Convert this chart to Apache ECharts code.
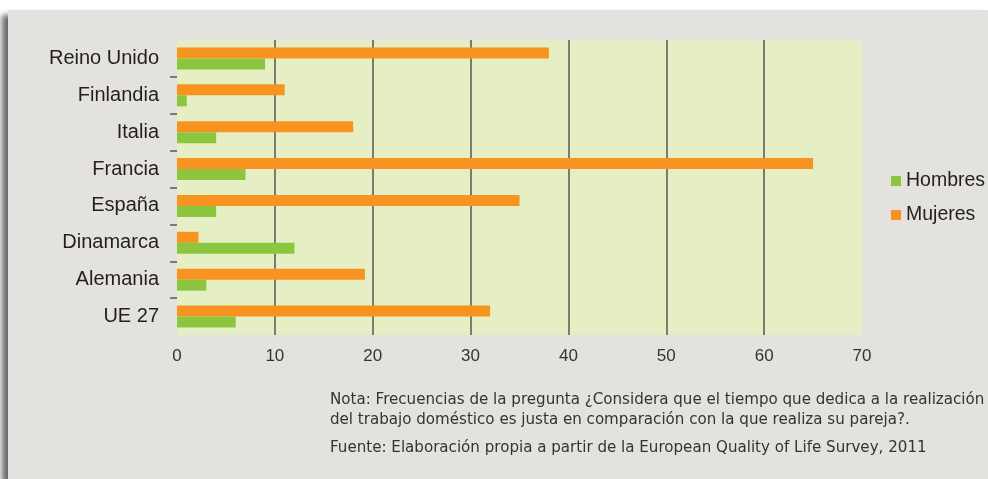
<!DOCTYPE html>
<html>
<head>
<meta charset="utf-8">
<script src="https://cdn.jsdelivr.net/npm/echarts@6/dist/echarts.min.js"></script>
<style>
  html, body { margin: 0; padding: 0; background: #ffffff; width: 988px; height: 479px; overflow: hidden; }
  #panel { position: absolute; left: 8px; top: 10px; right: 0; bottom: 0; background: #e3e2de;
           box-shadow: -6px 5px 6px rgba(0,0,0,0.6); }
  #chart { position: absolute; left: 0; top: 0; width: 988px; height: 479px; }
</style>
</head>
<body>
<div id="panel"></div>
<div id="chart"></div>
<script>
// Categories listed bottom-to-top (ECharts category y-axis starts at the bottom)
const categories = ['UE 27', 'Alemania', 'Dinamarca', 'España', 'Francia', 'Italia', 'Finlandia', 'Reino Unido'];
const hombres = [6, 3, 12, 4, 7, 4, 1, 9];
const mujeres = [32, 19.2, 2.2, 35, 65, 18, 11, 38];
const xTicks = [0, 10, 20, 30, 40, 50, 60, 70];
const boundaryTicks = [1, 2, 3, 4, 5, 6, 7];
const noteLines = [
  'Nota: Frecuencias de la pregunta ¿Considera que el tiempo que dedica a la realización',
  'del trabajo doméstico es justa en comparación con la que realiza su pareja?.'
];
const sourceLine = 'Fuente: Elaboración propia a partir de la European Quality of Life Survey, 2011';

const chart = echarts.init(document.getElementById('chart'), null, { renderer: 'canvas' });
const font = '"Liberation Sans", Arial, Helvetica, sans-serif';
const noteFont = '15.1px "DejaVu Sans", Verdana, sans-serif';

chart.setOption({
  backgroundColor: 'transparent',
  animation: false,
  textStyle: { fontFamily: font },
  grid: {
    left: 177, right: 126, top: 40, bottom: 144,
    show: true, backgroundColor: '#e5efc3', borderWidth: 0, containLabel: false
  },
  legend: {
    data: ['Hombres', 'Mujeres'],
    orient: 'vertical',
    left: 886, top: 166,
    icon: 'rect', itemWidth: 10, itemHeight: 10, itemGap: 14,
    textStyle: { fontSize: 19.5, color: '#231f20', fontFamily: font }
  },
  xAxis: {
    type: 'value',
    min: xTicks[0], max: xTicks[xTicks.length - 1], interval: 10,
    axisLine: { show: false },
    axisTick: { show: false },
    axisLabel: { fontSize: 17, color: '#333333', margin: 13, fontFamily: font },
    splitLine: { show: true, showMinLine: false, showMaxLine: false,
                 lineStyle: { color: '#7a7c72', width: 2 } }
  },
  yAxis: [{
    type: 'category',
    data: categories,
    axisLine: { show: false },
    axisTick: { show: false },
    axisLabel: { fontSize: 20, color: '#231f20', margin: 18, fontFamily: font },
    splitLine: { show: false }
  }, {
    type: 'value',
    position: 'left',
    min: 0, max: categories.length, interval: 1,
    axisLine: { show: false },
    axisLabel: { show: false },
    splitLine: { show: false },
    axisTick: { show: true, length: 7, customValues: boundaryTicks,
                lineStyle: { color: '#7a7a7a', width: 2 } }
  }],
  series: [{
    name: 'Mujeres', type: 'bar', data: mujeres,
    barWidth: 11, barGap: '0%',
    itemStyle: { color: '#f7931e' }
  }, {
    name: 'Hombres', type: 'bar', data: hombres,
    barWidth: 11, barGap: '0%',
    itemStyle: { color: '#8cc63f' }
  }],
  graphic: [
    { type: 'text', left: 330, top: 393, style: { text: noteLines[0], font: noteFont, fill: '#333333' } },
    { type: 'text', left: 330, top: 413, style: { text: noteLines[1], font: noteFont, fill: '#333333' } },
    { type: 'text', left: 330, top: 441, style: { text: sourceLine, font: noteFont, fill: '#333333' } }
  ]
});
</script>
</body>
</html>
